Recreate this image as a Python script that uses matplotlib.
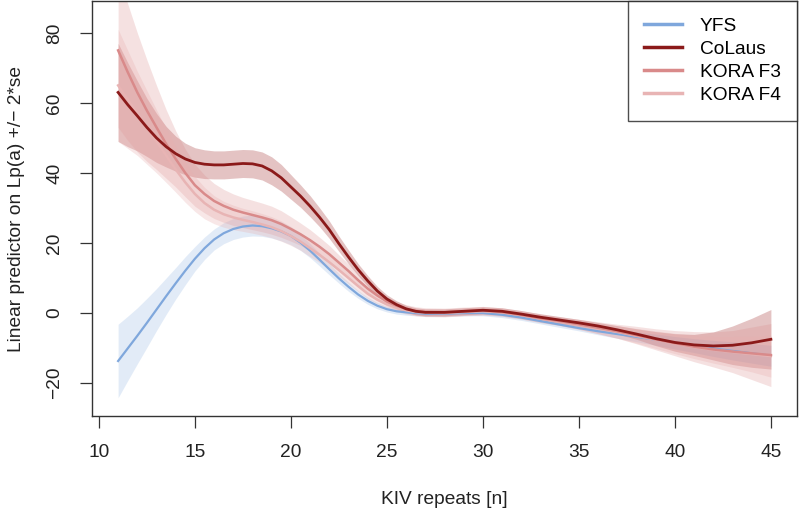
import matplotlib
matplotlib.use("Agg")
import matplotlib.pyplot as plt
import numpy as np

plt.rcParams['font.family'] = ['Liberation Sans', 'DejaVu Sans']

kiv = [11, 11.5, 12, 12.5, 13, 13.5, 14, 14.5, 15, 15.5, 16, 16.5, 17, 17.5, 18, 18.5,
       19, 19.5, 20, 20.5, 21, 21.5, 22, 22.5, 23, 23.5, 24, 24.5, 25, 25.5, 26, 26.5, 27,
       28, 29, 30, 31, 32, 33, 34, 35, 36, 37, 38, 39, 40, 41, 42, 43, 44, 45]

yfs = [-13.7, -10.1, -6.5, -2.8, 1.0, 4.8, 8.5, 12.1, 15.5, 18.5, 21.0, 22.8, 24.0, 24.7, 25.0, 24.8,
       24.2, 23.3, 22.0, 20.1, 17.8, 15.2, 12.5, 9.9, 7.5, 5.3, 3.5, 2.1, 1.1, 0.5, 0.2, 0.0, -0.2,
       -0.2, 0.0, 0.0, -0.5, -1.3, -2.3, -3.3, -4.3, -5.2, -6.0, -6.8, -7.6, -8.5, -9.3, -10.1, -10.8, -11.5, -12.2]
yfs_se2 = [10.5, 9.2, 8.0, 7.0, 6.0, 5.2, 4.5, 4.0, 3.5, 3.2, 3.0, 3.0, 3.0, 3.0, 3.0, 2.9,
           2.8, 2.7, 2.5, 2.2, 2.0, 1.8, 1.6, 1.4, 1.3, 1.1, 1.0, 0.9, 0.8, 0.8, 0.8, 0.8, 0.8,
           0.8, 0.8, 0.8, 0.8, 0.8, 0.8, 0.8, 0.8, 1.0, 1.2, 1.4, 1.6, 1.8, 2.0, 2.3, 2.6, 2.8, 3.0]

colaus = [63.0, 59.5, 56.3, 53.0, 50.0, 47.5, 45.5, 44.0, 43.0, 42.5, 42.3, 42.3, 42.5, 42.7, 42.6, 42.0,
          40.6, 38.6, 36.0, 33.4, 30.5, 27.3, 23.8, 19.8, 16.0, 12.4, 9.2, 6.3, 4.0, 2.4, 1.2, 0.5, 0.2,
          0.2, 0.5, 0.8, 0.5, -0.3, -1.2, -2.0, -2.8, -3.7, -4.8, -6.0, -7.3, -8.4, -9.1, -9.4, -9.2, -8.5, -7.5]
colaus_se2 = [14.0, 12.0, 10.0, 8.3, 7.0, 5.8, 5.0, 4.5, 4.2, 4.1, 4.0, 4.0, 4.0, 4.0, 4.0, 4.0,
              4.0, 3.8, 3.5, 3.2, 3.0, 2.7, 2.5, 2.2, 2.0, 1.7, 1.5, 1.3, 1.2, 1.1, 1.0, 1.0, 1.0,
              1.0, 1.0, 1.0, 1.0, 1.0, 1.0, 1.0, 1.0, 1.0, 1.2, 1.5, 2.0, 2.5, 3.0, 4.0, 5.5, 7.0, 8.5]

kora_f3 = [75.0, 68.8, 63.0, 57.8, 53.0, 48.3, 44.0, 40.0, 36.5, 34.0, 32.0, 30.6, 29.5, 28.7, 28.0, 27.3,
           26.5, 25.4, 24.0, 22.5, 20.8, 18.9, 16.8, 14.4, 12.0, 9.4, 7.0, 5.0, 3.3, 2.1, 1.2, 0.6, 0.3,
           0.2, 0.5, 0.7, 0.3, -0.5, -1.5, -2.3, -3.2, -4.2, -5.2, -6.3, -7.5, -8.6, -9.6, -10.4, -11.0, -11.5, -12.0]
kora_f3_se2 = [22.0, 19.5, 17.0, 14.5, 12.0, 9.8, 8.0, 6.8, 6.0, 5.4, 5.0, 4.7, 4.5, 4.3, 4.2, 4.1,
               4.0, 3.8, 3.5, 3.2, 3.0, 2.7, 2.5, 2.2, 2.0, 1.8, 1.6, 1.4, 1.3, 1.2, 1.2, 1.2, 1.2,
               1.2, 1.2, 1.2, 1.2, 1.2, 1.2, 1.2, 1.4, 1.7, 2.0, 2.5, 3.0, 3.6, 4.3, 5.0, 6.0, 7.5, 9.0]

kora_f4 = [65.0, 61.0, 57.0, 53.0, 49.0, 45.0, 41.0, 37.3, 34.0, 31.4, 29.5, 28.2, 27.3, 26.6, 26.0, 25.3,
           24.5, 23.4, 22.0, 20.4, 18.5, 16.6, 14.5, 12.3, 10.0, 7.7, 5.5, 3.8, 2.5, 1.5, 0.8, 0.3, 0.1,
           0.0, 0.3, 0.5, 0.2, -0.6, -1.6, -2.5, -3.4, -4.4, -5.4, -6.5, -7.6, -8.7, -9.7, -10.5, -11.1, -11.7, -12.3]
kora_f4_se2 = [16.0, 14.0, 12.0, 10.5, 9.0, 7.7, 6.5, 5.7, 5.0, 4.5, 4.0, 3.7, 3.5, 3.3, 3.2, 3.1,
               3.0, 2.9, 2.7, 2.5, 2.4, 2.2, 2.0, 1.8, 1.7, 1.5, 1.4, 1.2, 1.1, 1.1, 1.1, 1.1, 1.1,
               1.1, 1.1, 1.1, 1.1, 1.1, 1.1, 1.1, 1.3, 1.5, 1.8, 2.1, 2.5, 2.9, 3.3, 3.8, 4.4, 5.1, 6.0]

labels = ["YFS", "CoLaus", "KORA F3", "KORA F4"]
line_colors = ["#7fa7dc", "#8b1a1a", "#d98a8a", "#e8b4b4"]
fill_colors = ["#7fa7dc", "#a63a3a", "#d98a8a", "#e8b0b0"]
fill_alpha = [0.22, 0.30, 0.25, 0.30]
line_widths = [1.6, 2.0, 1.8, 1.8]

series = [(yfs, yfs_se2), (colaus, colaus_se2), (kora_f3, kora_f3_se2), (kora_f4, kora_f4_se2)]

fig = plt.figure(figsize=(8, 5.12), dpi=100)
ax = fig.add_axes([92/800, 96/512, 705/800, 415/512])

x = np.array(kiv, dtype=float)
for (m, s), fc, fa in zip(series, fill_colors, fill_alpha):
    m = np.array(m); s = np.array(s)
    ax.fill_between(x, m - s, m + s, color=fc, alpha=fa, linewidth=0)

handles = {}
for idx in [0, 3, 2, 1]:
    m, s = series[idx]
    h, = ax.plot(x, m, color=line_colors[idx], lw=line_widths[idx], label=labels[idx],
                 solid_joinstyle='round')
    handles[idx] = h
handles = [handles[i] for i in range(4)]

ax.set_xlim(9.64, 46.36)
ax.set_ylim(-29.4, 89.1)
ax.set_xticks([10, 15, 20, 25, 30, 35, 40, 45])
ax.set_yticks([-20, 0, 20, 40, 60, 80])
ax.tick_params(axis='both', length=8.6, width=0.9, color='#333333', labelsize=13.8,
               labelcolor='#222222')
ax.tick_params(axis='x', pad=11.5)
ax.tick_params(axis='y', pad=12)
for lab in ax.get_yticklabels():
    lab.set_rotation(90)
    lab.set_va('center')

for sp in ax.spines.values():
    sp.set_linewidth(1.0)
    sp.set_color('#333333')

ax.set_xlabel("KIV repeats [n]", fontsize=13.8, color='#222222')
ax.set_ylabel("Linear predictor on Lp(a) +/\u2212 2*se", fontsize=13.8, color='#222222')
ax.xaxis.set_label_coords(0.5, -0.18)
ax.yaxis.set_label_coords(-0.095, 0.5)

leg = ax.legend(handles=handles, labels=labels, loc='upper right', borderaxespad=0,
                fontsize=13.8, frameon=True, fancybox=False, edgecolor='#222222',
                handlelength=2.0, handletextpad=0.9, labelspacing=0.3, borderpad=0.85)
leg.get_frame().set_linewidth(1.0)
for lh in leg.get_lines():
    lh.set_linewidth(2.5)

fig.savefig("out.png", dpi=100)
